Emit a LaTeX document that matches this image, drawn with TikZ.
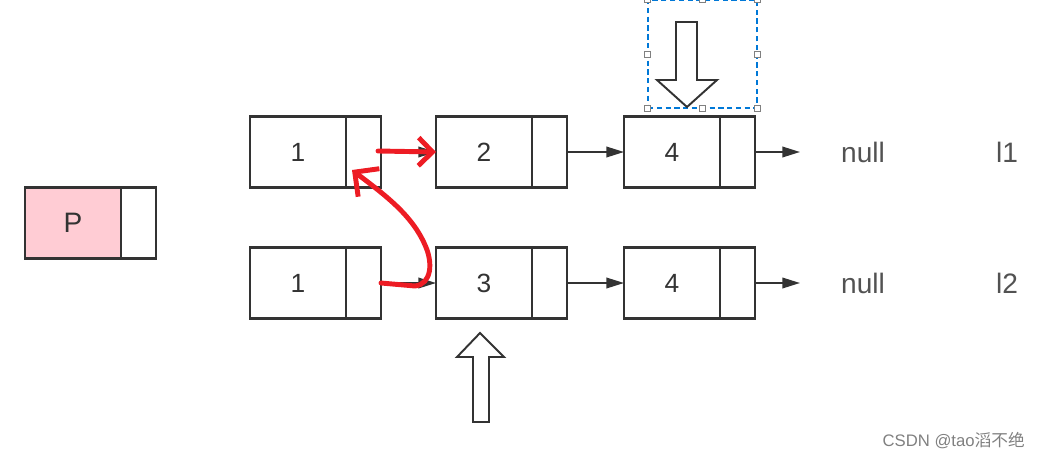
\documentclass[tikz,border=0pt]{standalone}
\usepackage{fontspec}
\setmainfont{Liberation Sans}
\newfontfamily\cjk{Noto Sans CJK SC}
\usetikzlibrary{positioning,arrows.meta}
\definecolor{boxline}{HTML}{333333}
\definecolor{redpen}{HTML}{ED1C24}
\definecolor{selblue}{HTML}{0078D7}
\definecolor{pfill}{HTML}{FFCCD4}

\begin{document}
\begin{tikzpicture}[x=0.02cm,y=-0.02cm,
	datbox/.style={draw=boxline,line width=1.2pt,minimum width=1.92cm,minimum height=1.42cm,inner sep=0pt,outer sep=0pt,text=boxline,font=\fontsize{15}{15}\selectfont},
	ptrbox/.style={datbox,minimum width=0.7cm},
	link/.style={draw=boxline,line width=1pt,-{Triangle[length=10pt,width=6pt]}},
	redline/.style={draw=redpen,line width=2.8pt,line cap=round,-{Straight Barb[length=8pt,width=16pt]}},
	hollow/.style={draw=boxline,line width=1.1pt,fill=white},
	label/.style={text=boxline!85,font=\fontsize{16}{16}\selectfont},
	selbox/.style={draw=selblue,line width=0.6pt,dash pattern=on 3pt off 2pt,minimum width=2.18cm,minimum height=2.16cm,inner sep=0pt},
	handle/.style={draw=gray,fill=white,line width=0.4pt,minimum size=3.5pt,inner sep=0pt}]
	\useasboundingbox (0,0) rectangle (1046,460);
	\node[datbox,fill=pfill,font=\fontsize{16}{16}\selectfont] (p) at (73,223) {P};
	\node[ptrbox,right=0pt of p] (pp) {};
	\node[datbox] (a1) at (298,152) {1};
	\node[ptrbox,right=0pt of a1] (a1p) {};
	\node[datbox] (a2) at (484,152) {2};
	\node[ptrbox,right=0pt of a2] (a2p) {};
	\node[datbox] (a3) at (672,152) {4};
	\node[ptrbox,right=0pt of a3] (a3p) {};
	\node[datbox] (b1) at (298,283) {1};
	\node[ptrbox,right=0pt of b1] (b1p) {};
	\node[datbox] (b2) at (484,283) {3};
	\node[ptrbox,right=0pt of b2] (b2p) {};
	\node[datbox] (b3) at (672,283) {4};
	\node[ptrbox,right=0pt of b3] (b3p) {};
	\node[label] (n1) at (863,152) {null};
	\node[label] (n2) at (863,283) {null};
	\node[label] (l1) at (1007,152) {l1};
	\node[label] (l2) at (1007,283) {l2};
	\coordinate (e1) at (800,152);
	\coordinate (e2) at (800,283);
	\draw[link] (a1p) -- (a2);
	\draw[link] (a2p) -- (a3);
	\draw[link] (a3p.east) -- (e1);
	\draw[link] (b1p) -- (b2);
	\draw[link] (b2p) -- (b3);
	\draw[link] (b3p.east) -- (e2);
	\coordinate (ra) at (378,151);
	\coordinate (tip) at (352,170);
	\draw[redline] (ra) -- (a2.west);
	\draw[redline,-{Straight Barb[length=10pt,width=20pt]}] (b1p.east) -- (415,286) .. controls (432,284) and (433,262) .. (425,245) .. controls (412,215) and (385,195) .. (tip);
	\node[selbox] (sel) at (702.5,54) {};
	\foreach \a [count=\i] in {north west,north,north east,east,south east,south,south west,west}
		\node[handle] (h\i) at (sel.\a) {};
	\draw[hollow] (676,22) -- (697,22) -- (697,80) -- (717,80) -- (687,107) -- (657,80) -- (676,80) -- cycle;
	\draw[hollow] (473,422) -- (489,422) -- (489,357) -- (504,357) -- (480,333) -- (457,357) -- (473,357) -- cycle;
	\node[anchor=east,text=gray,font=\fontsize{9.5}{9.5}\selectfont] (wm) at (1031,441) {CSDN @tao{\cjk 滔不绝}};
\end{tikzpicture}
\end{document}
